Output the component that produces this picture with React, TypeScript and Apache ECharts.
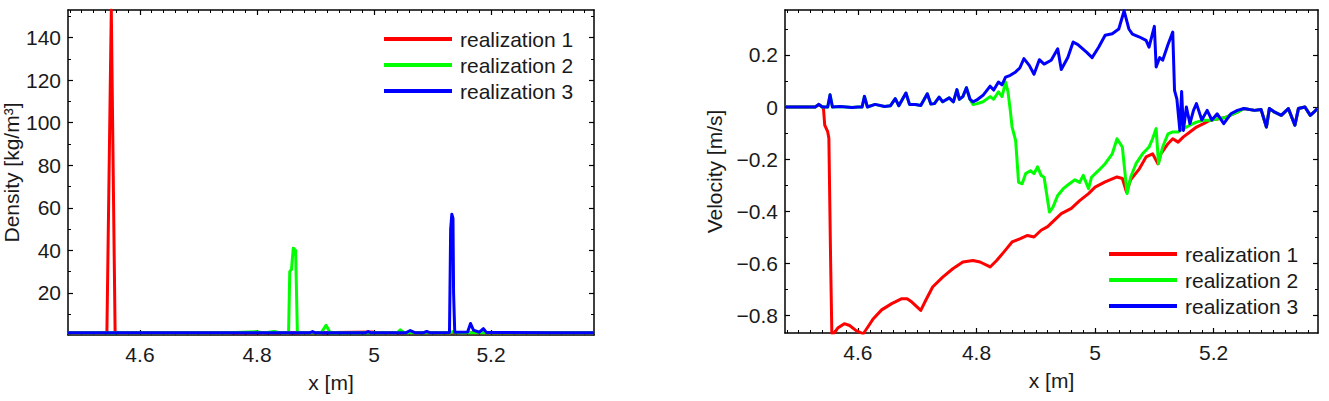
import React, { useEffect, useRef } from "react";
import * as echarts from "echarts";

// ---------- axes / ticks ----------
const X_MIN = 4.477;
const X_MAX = 5.376;
const xMajorTicks = [4.6, 4.8, 5.0, 5.2];
const DENSITY_MIN = 0.2;
const DENSITY_MAX = 153;
const densityMajorTicks = [20, 40, 60, 80, 100, 120, 140];
const densityMinorTicks = [10, 30, 50, 70, 90, 110, 130, 150];
const VEL_MIN = -0.869;
const VEL_MAX = 0.373;
const velocityMajorTicks = [-0.8, -0.6, -0.4, -0.2, 0, 0.2];
const velocityMinorTicks = [-0.7, -0.5, -0.3, -0.1, 0.1, 0.3];

const seriesNames = ["realization 1", "realization 2", "realization 3"];
const seriesColors = ["#ff0000", "#00ff00", "#0000ff"];

// ---------- density data [x, rho] ----------
const densityR1: [number, number][] = [
  [4.477, 1.2], [4.5, 1.3], [4.52, 1.2], [4.54, 1.3], [4.5435, 1.5], [4.551, 153],
  [4.5575, 1.6], [4.562, 1.3], [4.6, 1.2], [4.7, 1.2], [4.8, 1.3], [4.9, 1.2],
  [4.998, 1.6], [5.0, 1.3], [5.1, 1.2], [5.2, 1.2], [5.3, 1.2], [5.376, 1.2],
];
const densityR2: [number, number][] = [
  [4.477, 1.2], [4.6, 1.2], [4.75, 1.3], [4.8, 1.8], [4.81, 1.2], [4.83, 1.9],
  [4.84, 1.2], [4.854, 1.3], [4.856, 30], [4.859, 31], [4.862, 41], [4.866, 40],
  [4.869, 1.5], [4.875, 1.2], [4.91, 1.3], [4.918, 4.8], [4.925, 1.3], [5.0, 1.2],
  [5.04, 1.3], [5.045, 2.6], [5.052, 1.3], [5.13, 1.2], [5.135, 1.8], [5.14, 1.2],
  [5.376, 1.2],
];
const densityR3: [number, number][] = [
  [4.477, 1.2], [4.6, 1.3], [4.7, 1.2], [4.8, 1.3], [4.89, 1.2], [4.895, 1.8],
  [4.9, 1.2], [4.985, 1.2], [4.99, 1.8], [4.995, 1.2], [5.055, 1.3], [5.062, 2.3],
  [5.07, 1.3], [5.085, 1.3], [5.09, 1.9], [5.095, 1.3], [5.129, 1.4], [5.131, 50],
  [5.133, 57], [5.135, 55], [5.136, 20], [5.138, 1.5], [5.16, 1.6], [5.165, 5.6],
  [5.17, 2.5], [5.18, 1.5], [5.187, 3.2], [5.192, 1.4], [5.3, 1.3], [5.376, 1.2],
];

// ---------- velocity data [x, u] ----------
const velocityR3: [number, number][] = [
  [4.477, 0], [4.5, 0], [4.528, 0], [4.534, 0.01], [4.54, 0], [4.549, 0], [4.553, 0.047],
  [4.557, 0], [4.57, 0.002], [4.59, -0.002], [4.6, 0], [4.607, 0], [4.611, 0.041],
  [4.616, 0], [4.629, 0.01], [4.645, 0.002], [4.655, 0.005], [4.663, 0.032], [4.669, 0.005],
  [4.681, 0.054], [4.687, 0.01], [4.697, 0.01], [4.706, 0.006], [4.717, 0.051], [4.723, 0.012],
  [4.729, 0.013], [4.737, 0.038], [4.743, 0.02], [4.754, 0.035], [4.761, 0.02], [4.767, 0.067],
  [4.771, 0.03], [4.777, 0.04], [4.783, 0.074], [4.789, 0.03], [4.794, 0.02], [4.8, 0.026],
  [4.811, 0.045], [4.823, 0.08], [4.829, 0.065], [4.837, 0.096], [4.843, 0.085], [4.849, 0.115],
  [4.857, 0.122], [4.866, 0.135], [4.873, 0.15], [4.88, 0.186], [4.889, 0.16], [4.897, 0.126],
  [4.906, 0.182], [4.914, 0.165], [4.926, 0.18], [4.937, 0.224], [4.943, 0.144], [4.954, 0.19],
  [4.963, 0.25], [4.971, 0.24], [4.986, 0.21], [4.995, 0.19], [5.006, 0.23], [5.017, 0.276],
  [5.029, 0.282], [5.04, 0.3], [5.049, 0.37], [5.057, 0.3], [5.063, 0.28], [5.074, 0.27],
  [5.086, 0.256], [5.091, 0.23], [5.1, 0.31], [5.103, 0.154], [5.109, 0.19], [5.114, 0.18],
  [5.123, 0.24], [5.131, 0.288], [5.134, 0.064], [5.138, 0.03], [5.143, -0.09], [5.146, 0.06],
  [5.149, -0.09], [5.154, 0], [5.16, -0.064], [5.166, -0.013], [5.171, 0.013], [5.18, -0.05],
  [5.189, -0.013], [5.197, -0.05], [5.206, -0.026], [5.217, -0.064], [5.229, -0.026],
  [5.24, -0.013], [5.251, -0.006], [5.269, -0.013], [5.28, -0.01], [5.289, -0.077],
  [5.294, -0.006], [5.303, -0.02], [5.314, -0.032], [5.326, -0.006], [5.337, -0.07],
  [5.343, -0.006], [5.354, 0], [5.363, -0.032], [5.369, -0.02], [5.375, -0.006],
];
// realization 2 coincides with realization 3 before x = 4.789 and after x = 5.251
const velocityR2Own: [number, number][] = [
  [4.794, 0.01], [4.8, 0.012], [4.811, 0.02], [4.823, 0.04], [4.829, 0.03], [4.837, 0.058],
  [4.843, 0.04], [4.849, 0.096], [4.853, 0.06], [4.857, -0.013], [4.86, -0.077], [4.866, -0.128],
  [4.871, -0.29], [4.877, -0.295], [4.883, -0.256], [4.891, -0.245], [4.897, -0.256],
  [4.903, -0.23], [4.909, -0.263], [4.914, -0.27], [4.923, -0.404], [4.929, -0.385],
  [4.937, -0.34], [4.946, -0.315], [4.954, -0.3], [4.966, -0.28], [4.974, -0.29], [4.98, -0.263],
  [4.989, -0.314], [4.994, -0.27], [5.006, -0.244], [5.017, -0.218], [5.029, -0.18],
  [5.037, -0.122], [5.046, -0.154], [5.054, -0.333], [5.06, -0.27], [5.069, -0.218],
  [5.08, -0.18], [5.091, -0.154], [5.097, -0.122], [5.103, -0.083], [5.107, -0.218],
  [5.114, -0.154], [5.123, -0.103], [5.131, -0.096], [5.14, -0.096], [5.149, -0.083],
  [5.16, -0.07], [5.171, -0.058], [5.183, -0.051], [5.194, -0.051], [5.22, -0.04], [5.24, -0.02],
];
// realization 1 coincides with realization 3 before x = 4.5417 and after x = 5.251
const velocityR1Own: [number, number][] = [
  [4.5417, 0], [4.544, -0.07], [4.549, -0.095], [4.551, -0.12], [4.554, -0.6], [4.556, -0.87],
  [4.56, -0.869], [4.566, -0.85], [4.577, -0.833], [4.586, -0.84], [4.597, -0.86], [4.609, -0.872],
  [4.617, -0.845], [4.626, -0.814], [4.64, -0.78], [4.657, -0.756], [4.674, -0.737],
  [4.683, -0.737], [4.691, -0.75], [4.706, -0.782], [4.714, -0.745], [4.726, -0.692],
  [4.743, -0.654], [4.76, -0.622], [4.777, -0.596], [4.794, -0.59], [4.806, -0.596],
  [4.823, -0.615], [4.834, -0.59], [4.846, -0.558], [4.86, -0.519], [4.874, -0.506],
  [4.886, -0.494], [4.897, -0.5], [4.909, -0.474], [4.92, -0.46], [4.931, -0.436], [4.943, -0.41],
  [4.96, -0.39], [4.974, -0.36], [4.989, -0.333], [5.0, -0.308], [5.017, -0.288], [5.037, -0.269],
  [5.046, -0.275], [5.053, -0.327], [5.06, -0.28], [5.074, -0.24], [5.086, -0.192],
  [5.097, -0.18], [5.106, -0.218], [5.111, -0.18], [5.123, -0.141], [5.131, -0.122],
  [5.14, -0.135], [5.149, -0.115], [5.16, -0.096], [5.171, -0.077], [5.183, -0.064],
  [5.194, -0.051], [5.22, -0.04], [5.24, -0.02],
];

const FONT = "'Liberation Sans', Arial, Helvetica, sans-serif";
const TEXT_COLOR = "#1a1a1a";
const FONT_SIZE = 21;

function minorTicks(step: number, majors: number[]): number[] {
  const out: number[] = [];
  const start = Math.ceil(X_MIN / step);
  const end = Math.floor(X_MAX / step);
  for (let i = start; i <= end; i++) {
    const v = Math.round(i * step * 1000) / 1000;
    if (!majors.some((m) => Math.abs(m - v) < 1e-6)) out.push(v);
  }
  return out;
}
const xMinorTicks = minorTicks(0.02, xMajorTicks);

const fmtNum = (v: number) => {
  const r = Math.round(v * 1000) / 1000;
  return r < 0 ? "\u2212" + String(Math.abs(r)) : String(r);
};

const AXIS_LINE = { show: true, onZero: false, lineStyle: { color: "#000", width: 1.5 } };
const NO_LINE = { show: false, onZero: false };

function makeX(grid: number, min: number, max: number, name: string) {
  const base = { type: "value", gridIndex: grid, min, max, splitLine: { show: false } };
  return [
    {
      ...base, position: "bottom", axisLine: AXIS_LINE,
      axisTick: { show: true, inside: true, length: 5, customValues: xMajorTicks, lineStyle: { color: "#000", width: 1.2 } },
      axisLabel: { show: true, customValues: xMajorTicks, formatter: fmtNum, fontSize: FONT_SIZE, color: TEXT_COLOR, fontFamily: FONT, margin: 9 },
      name, nameLocation: "middle", nameGap: 37,
      nameTextStyle: { fontSize: FONT_SIZE, color: TEXT_COLOR, fontFamily: FONT },
    },
    {
      ...base, position: "bottom", axisLine: NO_LINE,
      axisTick: { show: true, inside: true, length: 3, customValues: xMinorTicks, lineStyle: { color: "#000", width: 1 } },
      axisLabel: { show: false },
    },
    {
      ...base, position: "top", axisLine: AXIS_LINE,
      axisTick: { show: true, inside: true, length: 5, customValues: xMajorTicks, lineStyle: { color: "#000", width: 1.2 } },
      axisLabel: { show: false },
    },
    {
      ...base, position: "top", axisLine: NO_LINE,
      axisTick: { show: true, inside: true, length: 3, customValues: xMinorTicks, lineStyle: { color: "#000", width: 1 } },
      axisLabel: { show: false },
    },
  ];
}

function makeY(grid: number, min: number, max: number, majors: number[], minors: number[], name: string, nameGap: number) {
  const base = { type: "value", gridIndex: grid, min, max, splitLine: { show: false } };
  return [
    {
      ...base, position: "left", axisLine: AXIS_LINE,
      axisTick: { show: true, inside: true, length: 5, customValues: majors, lineStyle: { color: "#000", width: 1.2 } },
      axisLabel: { show: true, customValues: majors, formatter: fmtNum, fontSize: FONT_SIZE, color: TEXT_COLOR, fontFamily: FONT, margin: 7 },
      name, nameLocation: "middle", nameGap,
      nameTextStyle: { fontSize: FONT_SIZE, color: TEXT_COLOR, fontFamily: FONT },
    },
    {
      ...base, position: "left", axisLine: NO_LINE,
      axisTick: { show: true, inside: true, length: 3, customValues: minors, lineStyle: { color: "#000", width: 1 } },
      axisLabel: { show: false },
    },
    {
      ...base, position: "right", axisLine: AXIS_LINE,
      axisTick: { show: true, inside: true, length: 5, customValues: majors, lineStyle: { color: "#000", width: 1.2 } },
      axisLabel: { show: false },
    },
    {
      ...base, position: "right", axisLine: NO_LINE,
      axisTick: { show: true, inside: true, length: 3, customValues: minors, lineStyle: { color: "#000", width: 1 } },
      axisLabel: { show: false },
    },
  ];
}

function lineSeries(name: string, color: string, data: [number, number][], axis: number) {
  return {
    type: "line", name, data, xAxisIndex: axis, yAxisIndex: axis,
    showSymbol: false, symbol: "none", clip: true, silent: true,
    lineStyle: { color, width: 3, join: "round" }, itemStyle: { color },
  };
}

function legend(left: number, top: number) {
  return {
    data: seriesNames, orient: "vertical", left, top, padding: 0,
    icon: "rect", itemWidth: 68, itemHeight: 4, itemGap: 4, selectedMode: false,
    textStyle: { fontSize: FONT_SIZE, lineHeight: 22, color: TEXT_COLOR, fontFamily: FONT, padding: [0, 0, 0, 3] },
  };
}

export default function App() {
  const ref = useRef<HTMLDivElement>(null);
  useEffect(() => {
    if (!ref.current) return;
    const chart = echarts.init(ref.current, null, { renderer: "svg" });
    const r2 = [
      ...velocityR3.filter((p) => p[0] < 4.79),
      ...velocityR2Own,
      ...velocityR3.filter((p) => p[0] >= 5.251),
    ];
    const r1 = [
      ...velocityR3.filter((p) => p[0] < 4.5417),
      ...velocityR1Own,
      ...velocityR3.filter((p) => p[0] >= 5.251),
    ];
    chart.setOption({
      animation: false,
      backgroundColor: "#ffffff",
      textStyle: { fontFamily: FONT },
      grid: [
        { left: 68, top: 10, width: 526, height: 325, containLabel: false, outerBoundsMode: "none" },
        { left: 785, top: 10, width: 533, height: 323, containLabel: false, outerBoundsMode: "none" },
      ],
      xAxis: [...makeX(0, X_MIN, X_MAX, "x [m]"), ...makeX(1, X_MIN, X_MAX, "x [m]")],
      yAxis: [
        ...makeY(0, DENSITY_MIN, DENSITY_MAX, densityMajorTicks, densityMinorTicks, "Density [kg/m\u00b3]", 45),
        ...makeY(1, VEL_MIN, VEL_MAX, velocityMajorTicks, velocityMinorTicks, "Velocity [m/s]", 60),
      ],
      legend: [legend(384, 28), legend(1109, 243)],
      series: [
        lineSeries(seriesNames[0], seriesColors[0], densityR1, 0),
        lineSeries(seriesNames[1], seriesColors[1], densityR2, 0),
        lineSeries(seriesNames[2], seriesColors[2], densityR3, 0),
        lineSeries(seriesNames[0], seriesColors[0], r1, 4),
        lineSeries(seriesNames[1], seriesColors[1], r2, 4),
        lineSeries(seriesNames[2], seriesColors[2], velocityR3, 4),
      ],
    });
    return () => chart.dispose();
  }, []);
  return (
    <div
      ref={ref}
      style={{ position: "fixed", left: 0, top: 0, width: 1329, height: 401, background: "#fff" }}
    />
  );
}
